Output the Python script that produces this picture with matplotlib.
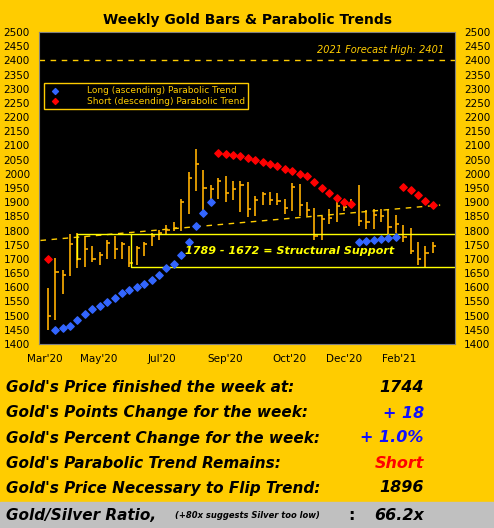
import matplotlib
matplotlib.use("Agg")
import matplotlib.pyplot as plt
import numpy as np

# weekly bars, Mar'20 .. Mar'21
closes = [1498, 1653, 1645, 1752, 1698, 1736, 1700, 1713, 1756, 1735, 1751, 1685,
          1737, 1753, 1781, 1790, 1801, 1810, 1902, 1986, 2035, 1949, 1947, 1975,
          1934, 1947, 1962, 1876, 1907, 1930, 1906, 1905, 1879, 1952, 1889, 1872,
          1781, 1840, 1843, 1888, 1883, 1895, 1835, 1830, 1856, 1850, 1813, 1824,
          1778, 1729, 1700, 1720, 1744]
highs = [1597, 1702, 1660, 1788, 1790, 1780, 1745, 1725, 1765, 1780, 1758, 1745,
         1745, 1760, 1790, 1802, 1820, 1829, 1910, 2005, 2089, 2015, 1962, 1985,
         1992, 1975, 1973, 1970, 1922, 1935, 1936, 1933, 1911, 1966, 1965, 1900,
         1880, 1850, 1875, 1906, 1892, 1912, 1959, 1874, 1875, 1875, 1876, 1855,
         1820, 1810, 1760, 1745, 1758]
lows = [1451, 1484, 1575, 1640, 1668, 1670, 1690, 1680, 1700, 1700, 1700, 1670,
        1680, 1710, 1745, 1765, 1785, 1797, 1800, 1860, 1940, 1874, 1908, 1910,
        1900, 1906, 1865, 1848, 1850, 1890, 1891, 1890, 1860, 1870, 1850, 1852,
        1765, 1765, 1824, 1830, 1870, 1880, 1815, 1805, 1805, 1830, 1785, 1790,
        1760, 1717, 1680, 1672, 1720]

long1_idx = list(range(1, 23))
long1_val = [1448, 1456, 1465, 1486, 1505, 1522, 1535, 1548, 1562, 1581, 1590, 1600,
             1611, 1625, 1642, 1667, 1683, 1715, 1760, 1815, 1863, 1901]
short1_idx = [0] + list(range(23, 42))
short1_val = [1700, 2075, 2071, 2067, 2064, 2057, 2048, 2040, 2033, 2026, 2017, 2009,
              1999, 1992, 1970, 1950, 1932, 1915, 1901, 1894]
long2_idx = list(range(42, 48))
long2_val = [1760, 1764, 1768, 1770, 1773, 1778]
short2_idx = list(range(48, 53))
short2_val = [1954, 1944, 1927, 1905, 1889]

trend_start, trend_end = 1765, 1890
support_hi, support_lo = 1789, 1672
forecast = 2401

tick_pos = [-0.4, 6.9, 15.4, 24, 32.6, 40, 47.5]
tick_lab = ["Mar'20", "May'20", "Jul'20", "Sep'20", "Oct'20", "Dec'20", "Feb'21"]

rows = [("Gold's Price finished the week at:", "1744", "black"),
        ("Gold's Points Change for the week:", "+ 18", "#1010ff"),
        ("Gold's Percent Change for the week:", "+ 1.0%", "#1010ff"),
        ("Gold's Parabolic Trend Remains:", "Short", "#ff0000"),
        ("Gold's Price Necessary to Flip Trend:", "1896", "black")]

gold = "#FFCC00"
barc = "#FFB000"
fig = plt.figure(figsize=(4.94, 5.28), dpi=100, facecolor=gold)
fig.patches.append(plt.Rectangle((0, 0), 1, 26 / 528, transform=fig.transFigure,
                                 color="#C0C0C0", zorder=0))
fig.text(0.5, 0.963, "Weekly Gold Bars & Parabolic Trends", ha="center", va="center",
         fontsize=10, fontweight="bold")

ax = fig.add_axes([39 / 494, 1 - 344 / 528, 416 / 494, 312 / 528], facecolor="black")
n = len(closes)
x = np.arange(n)
ax.vlines(x, lows, highs, color=barc, lw=1.2)
ax.hlines(closes, x, x + 0.45, color=barc, lw=1.2)

h1 = ax.scatter(long1_idx + long2_idx, long1_val + long2_val, marker="D", s=14,
                color="#3366FF", zorder=3)
h2 = ax.scatter(short1_idx + short2_idx, short1_val + short2_val, marker="D", s=14,
                color="#FF0000", zorder=3)

tx = np.linspace(-1, n, 50)
ax.plot(tx, np.linspace(trend_start, trend_end, 50), ls=(0, (4, 4)), color=gold, lw=1)
ax.axhline(forecast, ls=(0, (4, 4)), color=gold, lw=1)
ax.text(n + 0.5, forecast + 25, "2021 Forecast High: 2401", color=gold, ha="right",
        fontsize=7, style="italic")

ax.plot([4, 4, n + 2], [1700, support_hi, support_hi], color="yellow", lw=1)
ax.plot([n + 2, 11.2, 11.2], [support_lo, support_lo, support_hi], color="yellow", lw=1)
ax.text(18.5, 1728, "1789 - 1672 = Structural Support", color="yellow", fontsize=8,
        fontweight="bold", style="italic", va="center")

ax.set_xlim(-1.2, n + 2)
ax.set_ylim(1400, 2500)
ax.set_yticks(range(1400, 2501, 50))
ax.tick_params(axis="y", labelleft=True, labelright=True, left=False, right=False,
               labelsize=7.5, pad=3)
ax.set_xticks(tick_pos)
ax.set_xticklabels(tick_lab, fontsize=7.5)
ax.tick_params(axis="x", colors=gold, labelcolor="black", length=3, pad=4)
for s in ax.spines.values():
    s.set_color("#808080")

lg = ax.legend([h1, h2], ["Long (ascending) Parabolic Trend",
                          "Short (descending) Parabolic Trend"],
               loc="upper left", bbox_to_anchor=(0.0, 0.85), fontsize=6.5,
               facecolor="black", edgecolor=gold, labelcolor=gold, fancybox=False,
               handletextpad=2.5, borderpad=0.3, labelspacing=0.2, framealpha=1,
               scatterpoints=1, markerscale=0.8)
lg.get_frame().set_linewidth(1)

for i, (lab, val, c) in enumerate(rows):
    y = 1 - (388 + i * 25) / 528
    fig.text(0.012, y, lab, fontsize=11, fontweight="bold", style="italic", va="center")
    fig.text(0.858, y, val, fontsize=11.5, fontweight="bold", style="italic", va="center",
             ha="right", color=c)
y = 1 - 515 / 528
fig.text(0.012, y, "Gold/Silver Ratio,", fontsize=11, fontweight="bold", style="italic",
         va="center")
fig.text(0.355, y, "(+80x suggests Silver too low)", fontsize=6, fontweight="bold",
         style="italic", va="center")
fig.text(0.705, y, ":", fontsize=11.5, fontweight="bold", va="center")
fig.text(0.858, y, "66.2x", fontsize=11.5, fontweight="bold", style="italic", va="center",
         ha="right")

fig.savefig("out.png", dpi=100, facecolor=gold)
